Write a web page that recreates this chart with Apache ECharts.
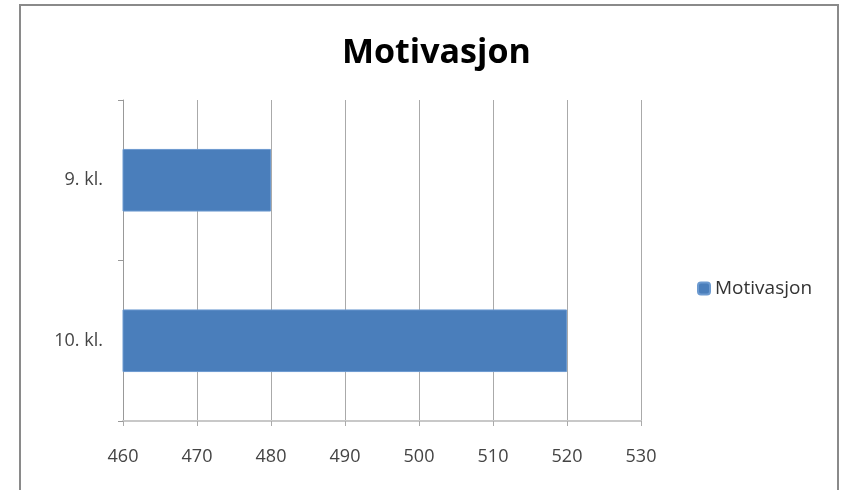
<!DOCTYPE html>
<html><head><meta charset="utf-8">
<script src="https://cdn.jsdelivr.net/npm/echarts@6/dist/echarts.min.js"></script>
<style>html,body{margin:0;padding:0;background:#fff;}#c{width:845px;height:490px;}</style>
</head><body><div id="c"></div>
<script>
const categories = ['10. kl.', '9. kl.'];
const seriesName = 'Motivasjon';
const values = [520, 480];
const xMin = 460, xMax = 530, xStep = 10;

const chart = echarts.init(document.getElementById('c'));
chart.setOption({
  backgroundColor: '#fff',
  animation: false,
  textStyle: { fontFamily: 'Open Sans' },
  title: {
    text: 'Motivasjon', left: 337, top: 31,
    textStyle: { fontSize: 34, fontWeight: 'bold', color: '#000', fontFamily: 'Open Sans' }
  },
  graphic: [{
    type: 'rect', shape: { x: 20, y: 5, width: 818, height: 520 },
    style: { fill: 'none', stroke: '#8a8a8a', lineWidth: 2 }, silent: true
  }],
  legend: {
    data: [seriesName], orient: 'vertical', left: 692, top: 274,
    itemWidth: 12, itemHeight: 12, itemGap: 6,
    textStyle: { fontSize: 19, color: '#333', fontFamily: 'Open Sans' }
  },
  grid: { left: 123, right: 204, top: 100, bottom: 69, containLabel: false },
  xAxis: {
    type: 'value', min: xMin, max: xMax, interval: xStep,
    axisLine: { show: true, lineStyle: { color: '#c8c8c8', width: 2 } },
    axisTick: { show: true, length: 5, lineStyle: { color: '#aaa' } },
    axisLabel: { fontSize: 18, color: '#444', margin: 27 },
    splitLine: { show: true, lineStyle: { color: '#aaa', width: 1 } }
  },
  yAxis: {
    type: 'category', data: categories,
    axisLine: { show: true, lineStyle: { color: '#999', width: 1 } },
    axisTick: { show: true, length: 5, alignWithLabel: false, lineStyle: { color: '#999' } },
    axisLabel: { fontSize: 18, color: '#444', margin: 20 }
  },
  series: [{
    name: seriesName, type: 'bar', data: values, barWidth: '39%',
    itemStyle: { color: '#4a7ebb', borderColor: '#6c9ad0', borderWidth: 1 }
  }]
});
</script></body></html>
